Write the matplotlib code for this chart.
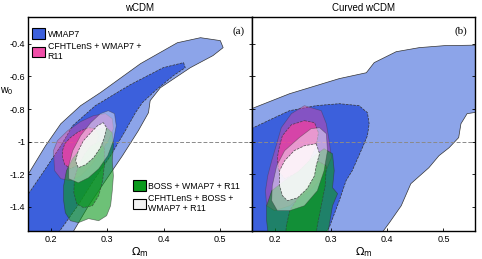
import numpy as np
import matplotlib
matplotlib.use('Agg')
import matplotlib.pyplot as plt
from matplotlib.patches import Patch

plt.rc('font', family='Liberation Sans', size=6.5)
plt.rc('axes', unicode_minus=False)

# contour outlines (Omega_m, w0)
# ---- panel (a): wCDM
a_wmap95_om = [0.161, 0.191, 0.218, 0.253, 0.288, 0.359, 0.424, 0.465, 0.500, 0.505, 0.487, 0.447, 0.394, 0.376,
               0.373, 0.355, 0.327, 0.297, 0.267, 0.239, 0.22, 0.10, 0.10]
a_wmap95_w = [-1.196, -1.025, -0.890, -0.779, -0.699, -0.521, -0.393, -0.362, -0.380, -0.423, -0.472, -0.546, -0.669,
              -0.748, -0.822, -0.933, -1.086, -1.239, -1.393, -1.558, -1.65, -1.65, -1.30]
a_wmap68_om = [0.161, 0.191, 0.218, 0.239, 0.279, 0.341, 0.399, 0.435, 0.438, 0.417, 0.385, 0.362, 0.350, 0.332,
               0.306, 0.276, 0.248, 0.214, 0.20, 0.10, 0.10]
a_wmap68_w = [-1.319, -1.166, -1.025, -0.902, -0.779, -0.650, -0.546, -0.515, -0.546, -0.595, -0.687, -0.761, -0.822,
              -0.933, -1.086, -1.239, -1.393, -1.558, -1.65, -1.65, -1.40]
a_cfht95_om = [0.205, 0.212, 0.230, 0.253, 0.276, 0.297, 0.309, 0.311, 0.302, 0.288, 0.271, 0.253, 0.235, 0.218, 0.207]
a_cfht95_w = [-1.055, -0.994, -0.933, -0.877, -0.840, -0.828, -0.859, -0.920, -0.994, -1.067, -1.147, -1.209, -1.239,
              -1.227, -1.178]
a_cfht68_om = [0.221, 0.225, 0.235, 0.249, 0.267, 0.279, 0.285, 0.279, 0.267, 0.253, 0.235, 0.225, 0.221]
a_cfht68_w = [-1.055, -1.012, -0.975, -0.939, -0.914, -0.920, -0.963, -1.025, -1.086, -1.135, -1.166, -1.141, -1.098]
a_boss95_om = [0.279, 0.297, 0.309, 0.311, 0.309, 0.311, 0.309, 0.306, 0.299, 0.285, 0.267, 0.249, 0.235, 0.226,
               0.223, 0.223, 0.228, 0.239, 0.253, 0.267]
a_boss95_w = [-0.933, -0.908, -0.945, -1.025, -1.117, -1.209, -1.301, -1.393, -1.454, -1.485, -1.472, -1.497, -1.485,
              -1.436, -1.362, -1.270, -1.178, -1.104, -1.043, -0.975]
a_boss68_om = [0.271, 0.288, 0.295, 0.295, 0.292, 0.285, 0.274, 0.258, 0.246, 0.241, 0.242, 0.249, 0.260]
a_boss68_w = [-1.025, -0.994, -1.043, -1.147, -1.239, -1.331, -1.393, -1.405, -1.380, -1.313, -1.227, -1.147, -1.074]
a_all95_om = [0.232, 0.232, 0.239, 0.253, 0.271, 0.288, 0.302, 0.313, 0.316, 0.311, 0.301, 0.285, 0.267, 0.249]
a_all95_w = [-1.227, -1.147, -1.055, -0.963, -0.883, -0.828, -0.810, -0.828, -0.902, -0.994, -1.086, -1.166, -1.221,
             -1.252]
a_all68_om = [0.244, 0.249, 0.258, 0.271, 0.283, 0.293, 0.299, 0.295, 0.288, 0.276, 0.262, 0.249]
a_all68_w = [-1.117, -1.055, -0.994, -0.945, -0.902, -0.883, -0.914, -0.975, -1.037, -1.098, -1.141, -1.160]

# ---- panel (b): curved wCDM
b_wmap95_om = [0.10, 0.159, 0.2265, 0.315, 0.363, 0.377, 0.416, 0.457, 0.501, 0.60, 0.60, 0.542, 0.531, 0.527,
               0.510, 0.492, 0.474, 0.442, 0.425, 0.404, 0.391, 0.38, 0.10]
b_wmap95_w = [-0.76, -0.798, -0.706, -0.613, -0.577, -0.515, -0.448, -0.423, -0.411, -0.405, -0.798, -0.828, -0.890,
              -0.975, -1.037, -1.086, -1.160, -1.258, -1.393, -1.497, -1.558, -1.65, -1.65]
b_wmap68_om = [0.10, 0.159, 0.196, 0.2265, 0.274, 0.315, 0.350, 0.365, 0.368, 0.365, 0.356, 0.338, 0.327, 0.315,
               0.297, 0.285, 0.28, 0.10]
b_wmap68_w = [-0.90, -0.92, -0.859, -0.810, -0.779, -0.767, -0.779, -0.822, -0.890, -0.963, -1.037, -1.178, -1.239,
              -1.362, -1.528, -1.577, -1.65, -1.65]
b_cfht95_om = [0.253, 0.283, 0.292, 0.297, 0.301, 0.288, 0.262, 0.227, 0.200, 0.186, 0.184, 0.188, 0.195, 0.204,
               0.212, 0.230]
b_cfht95_w = [-0.779, -0.810, -0.890, -0.994, -1.098, -1.209, -1.301, -1.393, -1.423, -1.393, -1.301, -1.209, -1.117,
              -1.012, -0.914, -0.828]
b_cfht68_om = [0.253, 0.271, 0.278, 0.274, 0.262, 0.241, 0.218, 0.207, 0.205, 0.209, 0.214, 0.230]
b_cfht68_w = [-0.871, -0.883, -0.945, -1.025, -1.117, -1.190, -1.227, -1.178, -1.098, -1.025, -0.963, -0.896]
b_boss95_om = [0.288, 0.303, 0.306, 0.303, 0.312, 0.303, 0.297, 0.290, 0.191, 0.186, 0.186, 0.195, 0.218, 0.244, 0.271]
b_boss95_w = [-1.043, -1.074, -1.178, -1.282, -1.319, -1.393, -1.515, -1.638, -1.638, -1.485, -1.393, -1.301, -1.239,
              -1.178, -1.086]
b_boss68_om = [0.276, 0.292, 0.290, 0.283, 0.276, 0.271, 0.218, 0.221, 0.227, 0.244, 0.262]
b_boss68_w = [-1.117, -1.147, -1.270, -1.393, -1.515, -1.638, -1.638, -1.515, -1.423, -1.331, -1.239]
b_all95_om = [0.280, 0.292, 0.294, 0.288, 0.276, 0.253, 0.227, 0.205, 0.195, 0.196, 0.204, 0.218, 0.244, 0.265]
b_all95_w = [-0.914, -0.951, -1.055, -1.178, -1.301, -1.393, -1.423, -1.423, -1.362, -1.270, -1.147, -1.055, -0.975,
             -0.920]
b_all68_om = [0.274, 0.280, 0.274, 0.271, 0.258, 0.241, 0.223, 0.214, 0.209, 0.209, 0.218, 0.235, 0.253]
b_all68_w = [-1.012, -1.074, -1.147, -1.209, -1.288, -1.344, -1.362, -1.331, -1.270, -1.178, -1.117, -1.055, -1.025]

titles = ['wCDM', 'Curved wCDM']
panel_tags = ['(a)', '(b)']
xticks = [0.2, 0.3, 0.4, 0.5]
yticks = [-0.4, -0.6, -0.8, -1, -1.2, -1.4]
ytick_labels = ['-0.4', '-0.6', '-0.8', '-1', '-1.2', '-1.4']
legend_top = ['WMAP7', 'CFHTLenS + WMAP7 +\nR11']
legend_bottom = ['BOSS + WMAP7 + R11', 'CFHTLenS + BOSS +\nWMAP7 + R11']

c_blue95 = '#8ca4e9'
c_blue68 = '#3c60dc'
c_pink = '#f2409f'
c_green = '#0c981d'
edge = '#333333'

fig = plt.figure(figsize=(4.82, 2.59), dpi=100)
ax1 = fig.add_axes([0.0581, 0.1081, 0.4647, 0.8263])
ax2 = fig.add_axes([0.5228, 0.1081, 0.4627, 0.8263])


def draw(ax, d):
    ax.fill(d['wmap95'][0], d['wmap95'][1], fc=c_blue95, ec=edge, lw=0.5, zorder=1)
    ax.fill(d['wmap68'][0], d['wmap68'][1], fc=c_blue68, ec=edge, lw=0.5, ls='--', zorder=1.1)
    ax.axhline(-1, color='#8a8a8a', lw=0.7, ls=(0, (4, 2)), zorder=1.5)
    ax.fill(d['cfht95'][0], d['cfht95'][1], fc=c_pink, alpha=0.4, ec=edge, lw=0.5, zorder=2)
    ax.fill(d['cfht68'][0], d['cfht68'][1], fc=c_pink, alpha=0.75, ec=edge, lw=0.5, ls='--', zorder=2.1)
    ax.fill(d['boss95'][0], d['boss95'][1], fc=c_green, alpha=0.6, ec=edge, lw=0.5, zorder=3)
    ax.fill(d['boss68'][0], d['boss68'][1], fc=c_green, alpha=0.65, ec=edge, lw=0.5, ls='--', zorder=3.1)
    ax.fill(d['all95'][0], d['all95'][1], fc='white', alpha=0.45, ec=edge, lw=0.5, zorder=4)
    ax.fill(d['all68'][0], d['all68'][1], fc='white', alpha=0.85, ec=edge, lw=0.5, ls='--', zorder=4.1)


draw(ax1, {'wmap95': (a_wmap95_om, a_wmap95_w), 'wmap68': (a_wmap68_om, a_wmap68_w),
           'cfht95': (a_cfht95_om, a_cfht95_w), 'cfht68': (a_cfht68_om, a_cfht68_w),
           'boss95': (a_boss95_om, a_boss95_w), 'boss68': (a_boss68_om, a_boss68_w),
           'all95': (a_all95_om, a_all95_w), 'all68': (a_all68_om, a_all68_w)})
draw(ax2, {'wmap95': (b_wmap95_om, b_wmap95_w), 'wmap68': (b_wmap68_om, b_wmap68_w),
           'cfht95': (b_cfht95_om, b_cfht95_w), 'cfht68': (b_cfht68_om, b_cfht68_w),
           'boss95': (b_boss95_om, b_boss95_w), 'boss68': (b_boss68_om, b_boss68_w),
           'all95': (b_all95_om, b_all95_w), 'all68': (b_all68_om, b_all68_w)})

for i, ax in enumerate([ax1, ax2]):
    ax.set_xlim(0.16, 0.556)
    ax.set_ylim(-1.548, -0.235)
    ax.set_xticks(xticks)
    ax.set_xticklabels([str(t) for t in xticks])
    ax.set_yticks(yticks)
    ax.tick_params(direction='in', length=2.5, width=0.6, pad=3, top=False, right=True)
    for s in ax.spines.values():
        s.set_linewidth(1.0)
    ax.set_title(titles[i], fontsize=7, pad=4)
    ax.set_xlabel(r'$\Omega_{\rm m}$', fontsize=8, labelpad=1)
    ax.text(0.965, 0.955, panel_tags[i], transform=ax.transAxes, ha='right', va='top',
            family='Liberation Serif', fontsize=8, zorder=10)
ax1.set_yticklabels(ytick_labels)
ax1.tick_params(axis='y', pad=2)
ax2.set_yticklabels([])
ax1.set_ylabel(r'$\mathregular{w_0}$', rotation=0, fontsize=7.5, labelpad=0)
ax1.yaxis.set_label_coords(-0.095, 0.625)

h_top = [Patch(fc=c_blue68, ec='black', lw=0.8), Patch(fc='#f04ea8', ec='black', lw=0.8)]
h_bot = [Patch(fc='#0a9a1c', ec='black', lw=0.8), Patch(fc='#f3f3f3', ec='black', lw=0.8)]
leg1 = ax1.legend(h_top, legend_top, loc='upper left', bbox_to_anchor=(-0.01, 0.975), frameon=False,
                  handlelength=1.5, handleheight=1.5, handletextpad=0.3, labelspacing=0.3, fontsize=6.3,
                  borderaxespad=0.3)
leg1.set_zorder(10)
ax1.add_artist(leg1)
leg2 = ax1.legend(h_bot, legend_bottom, loc='upper left', bbox_to_anchor=(0.44, 0.265), frameon=False,
                  handlelength=1.5, handleheight=1.5, handletextpad=0.3, labelspacing=0.3, fontsize=6.3,
                  borderaxespad=0.3)
leg2.set_zorder(10)

fig.savefig('out.png', dpi=100)
